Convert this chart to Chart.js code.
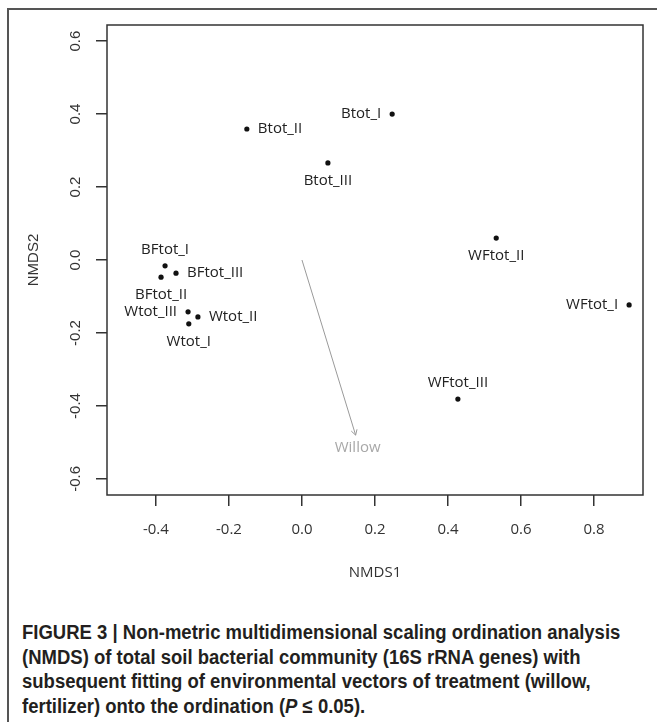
<!DOCTYPE html>
<html>
<head>
<meta charset="utf-8">
<script src="https://cdn.jsdelivr.net/npm/chart.js@4/dist/chart.umd.min.js"></script>
<style>
  html, body { margin: 0; padding: 0; background: #fff; }
  body { width: 657px; height: 722px; position: relative; overflow: hidden; }
  #frame { position: absolute; left: 7px; top: 8px; width: 720px; height: 800px; border: 2px solid #555; box-sizing: border-box; }
  #wrap { position: absolute; left: 0; top: 0; width: 657px; height: 600px; }
  #caption { position: absolute; left: 22px; top: 620px; width: 700px;
    font-family: "Liberation Sans", Arial, sans-serif; font-weight: bold;
    font-size: 20px; line-height: 24.5px; color: #231f20; white-space: nowrap;
    transform: scaleX(0.925); transform-origin: 0 0; }
</style>
</head>
<body>
<div id="frame"></div>
<div id="wrap"><canvas id="c" width="657" height="600"></canvas></div>
<div id="caption">FIGURE 3 | Non-metric multidimensional scaling ordination analysis<br>(NMDS) of total soil bacterial community (16S rRNA genes) with<br>subsequent fitting of environmental vectors of treatment (willow,<br>fertilizer) onto the ordination (<i>P</i> &le; 0.05).</div>
<script>
const sampleNames = ["Btot_I","Btot_II","Btot_III","BFtot_I","BFtot_III","BFtot_II","Wtot_III","Wtot_II","Wtot_I","WFtot_II","WFtot_I","WFtot_III"];
const nmds1 = [0.247, -0.151, 0.071, -0.375, -0.345, -0.386, -0.312, -0.285, -0.310, 0.532, 0.896, 0.427];
const nmds2 = [0.400, 0.359, 0.266, -0.016, -0.036, -0.047, -0.142, -0.156, -0.175, 0.060, -0.123, -0.381];
const labelSide = ["left","right","below","above","right","below","left","right","below","below","left","above"];
const vectorNames = ["Willow"];
const vectorX = [0.147];
const vectorY = [-0.480];
const xTickValues = [-0.4, -0.2, 0.0, 0.2, 0.4, 0.6, 0.8];
const xTickLabels = ["-0.4", "-0.2", "0.0", "0.2", "0.4", "0.6", "0.8"];
const yTickValues = [-0.6, -0.4, -0.2, 0.0, 0.2, 0.4, 0.6];
const yTickLabels = ["-0.6", "-0.4", "-0.2", "0.0", "0.2", "0.4", "0.6"];
const xRange = [-0.534, 0.934];
const yRange = [-0.644, 0.644];

const pointFont = '15px "Open Sans", sans-serif';

const overlay = {
  id: 'overlay',
  afterDraw(chart) {
    const ctx = chart.ctx;
    const xs = chart.scales.x, ys = chart.scales.y;
    const a = chart.chartArea;
    ctx.save();
    // box
    ctx.strokeStyle = '#333';
    ctx.lineWidth = 1.5;
    ctx.strokeRect(a.left, a.top, a.right - a.left, a.bottom - a.top);
    // y tick labels rotated
    ctx.fillStyle = '#333';
    ctx.font = '15px "Liberation Sans", Arial, sans-serif';
    ctx.textAlign = 'center';
    ctx.textBaseline = 'middle';
    yTickValues.forEach((v, i) => {
      const py = ys.getPixelForValue(v);
      ctx.save();
      ctx.translate(76, py);
      ctx.rotate(-Math.PI / 2);
      ctx.fillText(yTickLabels[i], 0, 0);
      ctx.restore();
    });
    // vectors
    vectorNames.forEach((name, i) => {
      const x0 = xs.getPixelForValue(0), y0 = ys.getPixelForValue(0);
      const x1 = xs.getPixelForValue(vectorX[i]), y1 = ys.getPixelForValue(vectorY[i]);
      ctx.strokeStyle = '#9a9a9a';
      ctx.lineWidth = 1;
      ctx.beginPath();
      ctx.moveTo(x0, y0); ctx.lineTo(x1, y1); ctx.stroke();
      const ang = Math.atan2(y1 - y0, x1 - x0);
      const hl = 6, ha = Math.PI / 6;
      ctx.beginPath();
      ctx.moveTo(x1 - hl * Math.cos(ang - ha), y1 - hl * Math.sin(ang - ha));
      ctx.lineTo(x1, y1);
      ctx.lineTo(x1 - hl * Math.cos(ang + ha), y1 - hl * Math.sin(ang + ha));
      ctx.stroke();
      ctx.fillStyle = '#a8a8a8';
      ctx.font = pointFont;
      ctx.textAlign = 'center';
      ctx.textBaseline = 'middle';
      ctx.fillText(name, x1 + 2, y1 + 13);
    });
    // point labels
    ctx.fillStyle = '#222';
    ctx.font = pointFont;
    ctx.textBaseline = 'middle';
    sampleNames.forEach((name, i) => {
      const px = xs.getPixelForValue(nmds1[i]);
      const py = ys.getPixelForValue(nmds2[i]);
      const side = labelSide[i];
      let tx = px, ty = py;
      if (side === 'left') { ctx.textAlign = 'right'; tx = px - 11; }
      else if (side === 'right') { ctx.textAlign = 'left'; tx = px + 11; }
      else if (side === 'above') { ctx.textAlign = 'center'; ty = py - 16; }
      else { ctx.textAlign = 'center'; ty = py + 18; }
      ctx.fillText(name, tx, ty);
    });
    ctx.restore();
  }
};

new Chart(document.getElementById('c'), {
  type: 'scatter',
  data: {
    datasets: [{
      data: nmds1.map((x, i) => ({ x: x, y: nmds2[i] })),
      backgroundColor: '#111',
      borderColor: '#111',
      pointRadius: 2.6,
      pointHoverRadius: 2.6,
      borderWidth: 0
    }]
  },
  options: {
    responsive: false,
    animation: false,
    events: [],
    layout: { padding: { left: 0, top: 25, right: 14, bottom: 0 } },
    plugins: { legend: { display: false }, tooltip: { enabled: false } },
    scales: {
      x: {
        type: 'linear',
        min: xRange[0], max: xRange[1],
        afterBuildTicks: (s) => { s.ticks = xTickValues.map(v => ({ value: v })); },
        afterFit: (s) => { s.height = 105; },
        grid: { drawOnChartArea: false, drawTicks: true, tickLength: 11, tickColor: '#333', lineWidth: 1.5 },
        border: { display: false },
        ticks: {
          autoSkip: false, maxRotation: 0, minRotation: 0, padding: 15,
          color: '#333', font: { family: '"Open Sans", sans-serif', size: 15 },
          callback: (v, i) => xTickLabels[i]
        },
        title: { display: true, text: 'NMDS1', color: '#333',
          font: { family: '"Open Sans", sans-serif', size: 15 }, padding: { top: 0, bottom: 18 } }
      },
      y: {
        type: 'linear',
        min: yRange[0], max: yRange[1],
        afterBuildTicks: (s) => { s.ticks = yTickValues.map(v => ({ value: v })); },
        afterFit: (s) => { s.width = 107; },
        grid: { drawOnChartArea: false, drawTicks: true, tickLength: 11, tickColor: '#333', lineWidth: 1.5 },
        border: { display: false },
        ticks: { display: false, autoSkip: false },
        title: { display: true, text: 'NMDS2', color: '#333',
          font: { family: '"Liberation Sans", Arial, sans-serif', size: 15 }, padding: { top: 25, bottom: 0 } }
      }
    }
  },
  plugins: [overlay]
});
</script>
</body>
</html>
